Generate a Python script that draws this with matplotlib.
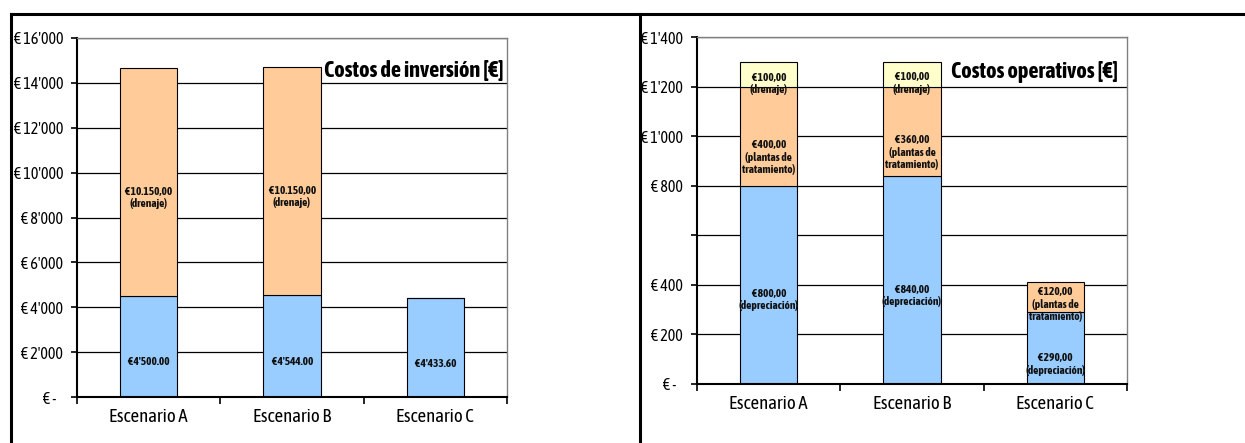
import matplotlib
matplotlib.use('Agg')
import matplotlib.pyplot as plt
from matplotlib.lines import Line2D
import numpy as np

plt.rcParams['font.family'] = ['Asap Condensed', 'Liberation Sans', 'DejaVu Sans']

# datos
escenarios = ['Escenario A', 'Escenario B', 'Escenario C']

# costos de inversión
inv_depreciacion = [4500.00, 4544.00, 4433.60]
inv_drenaje = [10150.00, 10150.00, 0.0]
inv_ticks = [0, 2000, 4000, 6000, 8000, 10000, 12000, 14000, 16000]
inv_ticklabels = ["€ -   ", "€ 2'000", "€ 4'000", "€ 6'000", "€ 8'000",
                  "€ 10'000", "€ 12'000", "€ 14'000", "€ 16'000"]

# costos operativos
op_depreciacion = [800.00, 840.00, 290.00]
op_plantas = [400.00, 360.00, 120.00]
op_drenaje = [100.00, 100.00, 0.0]
op_ticks = [0, 200, 400, 600, 800, 1000, 1200, 1400]
op_ticklabels = ["€ -   ", "€ 200", "€ 400", "", "€ 800", "€ 1'000", "€ 1'200", "€ 1'400"]

# etiquetas (texto, posición y)
inv_labels = [
    [("€ 4'500.00", 1560), ("€ 10.150,00\n(drenaje)", 8900)],
    [("€ 4'544.00", 1560), ("€ 10.150,00\n(drenaje)", 8950)],
    [("€ 4'433.60", 1500)],
]
op_labels = [
    [("€ 800,00\n(depreciación)", 340), ("€ 400,00\n(plantas de\ntratamiento)", 915),
     ("€ 100,00\n(drenaje)", 1212)],
    [("€ 840,00\n(depreciación)", 358), ("€ 360,00\n(plantas de\ntratamiento)", 935),
     ("€ 100,00\n(drenaje)", 1214)],
    [("€ 290,00\n(depreciación)", 80), ("€ 120,00\n(plantas de\ntratamiento)", 322)],
]

azul = '#99CCFF'
naranja = '#FFCC99'
amarillo = '#FFFFCC'


def estilo(ax, ticks, ticklabels, ymax, titulo, tx, ty):
    x = np.arange(len(escenarios))
    ax.set_xlim(-0.5, len(escenarios) - 0.5)
    ax.set_ylim(0, ymax)
    ax.set_yticks(ticks)
    ax.set_yticklabels(ticklabels, fontsize=11.4)
    ax.yaxis.grid(True, color='black', linewidth=0.9)
    ax.set_axisbelow(True)
    ax.set_xticks(x)
    ax.set_xticklabels(escenarios, fontsize=13.5)
    ax.tick_params(axis='x', length=0, pad=8)
    ax.set_xticks(np.arange(len(escenarios) + 1) - 0.5, minor=True)
    ax.tick_params(axis='x', which='minor', length=5, width=1.2, color='black')
    ax.tick_params(axis='y', length=4, width=1.2, pad=6)
    for s in ['left', 'bottom']:
        ax.spines[s].set_linewidth(1.5)
        ax.spines[s].set_color('black')
    for s in ['top', 'right']:
        ax.spines[s].set_linewidth(1.0)
        ax.spines[s].set_color('#808080')
    ax.text(tx, ty, titulo, transform=ax.transAxes, ha='right', va='center',
            fontsize=16, fontweight='bold')


def etiquetas(ax, labels):
    for i, grupo in enumerate(labels):
        for txt, y in grupo:
            ax.text(i, y, txt, ha='center', va='center', fontsize=8.2,
                    fontweight='bold', linespacing=1.15, color='#111111')


fig = plt.figure(figsize=(12.45, 4.43), dpi=100)

# marco
fig.add_artist(Line2D([11 / 1245, 1], [1 - 14 / 443] * 2, color='black', lw=2.2,
                      transform=fig.transFigure))
fig.add_artist(Line2D([11 / 1245] * 2, [0, 1 - 14 / 443], color='black', lw=2.2,
                      transform=fig.transFigure))
fig.add_artist(Line2D([640 / 1245] * 2, [0, 1 - 14 / 443], color='black', lw=2.2,
                      transform=fig.transFigure))

ax1 = fig.add_axes([77 / 1245, 1 - 397 / 443, 430 / 1245, 359 / 443])
x = np.arange(len(escenarios))
w = 0.4
ax1.bar(x, inv_depreciacion, w, color=azul, edgecolor='black', linewidth=0.8)
ax1.bar(x, inv_drenaje, w, bottom=inv_depreciacion, color=naranja,
        edgecolor='black', linewidth=0.8)
estilo(ax1, inv_ticks, inv_ticklabels, 16000, 'Costos de inversión [€]', 0.993, 0.908)
etiquetas(ax1, inv_labels)

ax2 = fig.add_axes([697 / 1245, 1 - 384 / 443, 430 / 1245, 347 / 443])
b2 = np.array(op_depreciacion) + np.array(op_plantas)
ax2.bar(x, op_depreciacion, w, color=azul, edgecolor='black', linewidth=0.8)
ax2.bar(x, op_plantas, w, bottom=op_depreciacion, color=naranja,
        edgecolor='black', linewidth=0.8)
ax2.bar(x[:2], op_drenaje[:2], w, bottom=b2[:2], color=amarillo,
        edgecolor='black', linewidth=0.8)
estilo(ax2, op_ticks, op_ticklabels, 1400, 'Costos operativos [€]', 0.979, 0.899)
etiquetas(ax2, op_labels)

fig.savefig('out.png', dpi=100)
